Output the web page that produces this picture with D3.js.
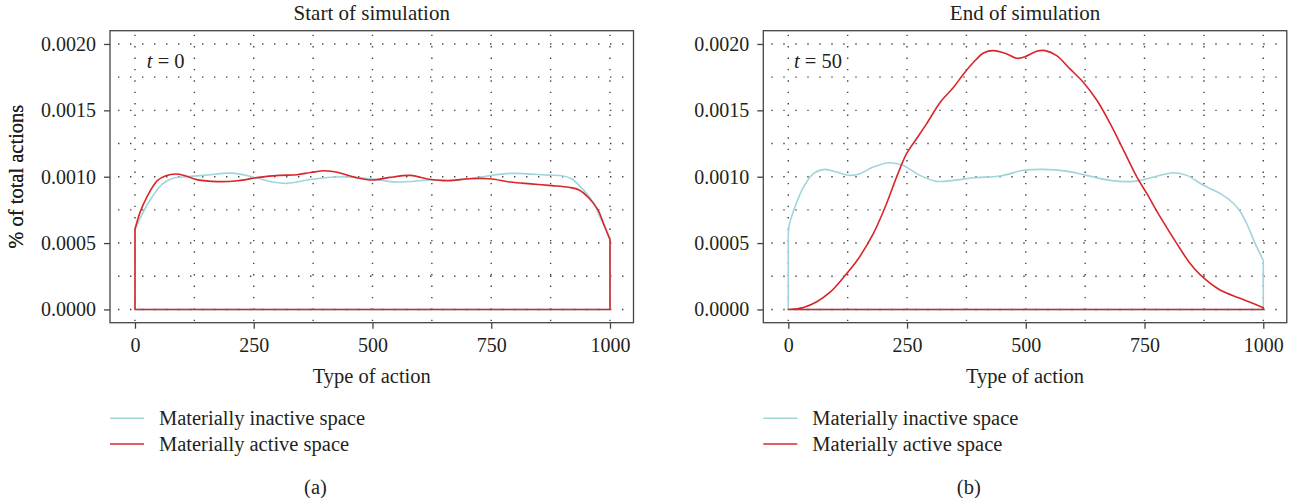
<!DOCTYPE html>
<html>
<head>
<meta charset="utf-8">
<script src="https://cdn.jsdelivr.net/npm/d3@7"></script>
<style>
  body { margin: 0; background: #fff; }
  svg text { font-family: "Liberation Serif", "DejaVu Serif", serif; fill: #231f20; }
</style>
</head>
<body>
<svg id="chart" width="1293" height="498"></svg>
<script>
// values: [type of action, % of total actions]
const startInactive = [[0,0.0006],[14,0.00071],[36,0.000847],[58,0.000946],[80,0.000988],[109,0.001],[145,0.00101],[203,0.001027],[246,0.001],[290,0.00096],[319,0.00095],[377,0.000983],[435,0.001],[500,0.000983],[551,0.00096],[623,0.000975],[681,0.000975],[732,0.001],[790,0.001025],[870,0.001012],[899,0.001007],[920,0.000983],[942,0.000908],[964,0.00081],[982,0.000673],[1000,0.00054]];
const startActive = [[0,0.000604],[11,0.000735],[25,0.000847],[47,0.00097],[65,0.001007],[87,0.00102],[105,0.001007],[130,0.000978],[174,0.000963],[217,0.00097],[261,0.000995],[304,0.00101],[341,0.001015],[370,0.001032],[399,0.001045],[428,0.001032],[464,0.000995],[500,0.000975],[536,0.000995],[580,0.00101],[616,0.000983],[659,0.00097],[703,0.000985],[746,0.000985],[790,0.00096],[833,0.000946],[877,0.000933],[913,0.00092],[935,0.0009],[957,0.000834],[975,0.000748],[986,0.00065],[1000,0.000525]];
const endInactive = [[0,0.00055],[2,0.000634],[14,0.000772],[32,0.000922],[53,0.001023],[77,0.001055],[102,0.001035],[130,0.00101],[151,0.001023],[179,0.001073],[214,0.001105],[242,0.001085],[277,0.00101],[312,0.000965],[348,0.000972],[390,0.000992],[446,0.001005],[495,0.001048],[537,0.001055],[586,0.001042],[628,0.00101],[678,0.000972],[727,0.000965],[769,0.000997],[811,0.00103],[839,0.00101],[874,0.000935],[909,0.000874],[937,0.0008],[951,0.00074],[966,0.00064],[980,0.00052],[993,0.00042],[1000,0.00037]];
const endActive = [[0,0],[32,0.000015],[60,0.000058],[88,0.00013],[116,0.00024],[147,0.00038],[179,0.000571],[204,0.000772],[228,0.000997],[249,0.001173],[270,0.001286],[291,0.001398],[320,0.001561],[348,0.001674],[369,0.001774],[390,0.001862],[411,0.001932],[432,0.00195],[460,0.001925],[481,0.001892],[499,0.001905],[523,0.001945],[541,0.00195],[565,0.001912],[593,0.001812],[621,0.001712],[650,0.001574],[678,0.001398],[706,0.001198],[734,0.000997],[755,0.000872],[783,0.000697],[818,0.000496],[846,0.000346],[867,0.000262],[909,0.000146],[951,0.000084],[975,0.00005],[1000,0.000013]];

const xTicks = [0, 250, 500, 750, 1000];
const yTicks = [0, 0.0005, 0.0010, 0.0015, 0.0020];
const xGrid = [0, 125, 250, 375, 500, 625, 750, 875, 1000];
const yGrid = [0, 0.00025, 0.0005, 0.00075, 0.001, 0.00125, 0.0015, 0.00175, 0.002];
const seriesNames = ['Materially inactive space', 'Materially active space'];
const seriesColors = ['#9fd5db', '#d8262b'];

const panels = [
  {title: 'Start of simulation', time: '0', tag: '(a)', left: 110, tPos: 25, data: [startInactive, startActive]},
  {title: 'End of simulation', time: '50', tag: '(b)', left: 763.3, tPos: 12, data: [endInactive, endActive]}
];

const svg = d3.select('#chart');
const plotTop = 30.7, width = 523.5, height = 292;

panels.forEach(p => {
  let g = svg.append('g').attr('transform', `translate(${p.left}, ${plotTop})`);

  let x = d3.scaleLinear().domain([-52.6, 1049.5]).range([0, width]);
  let y = d3.scaleLinear().domain([-0.0001, 0.0021]).range([height, 0]);

  // dotted grid
  g.selectAll('.hg').data(yGrid).enter().append('line')
    .attr('x1', 0).attr('x2', width)
    .attr('y1', d => y(d)).attr('y2', d => y(d))
    .attr('stroke', '#444').attr('stroke-width', 1.4)
    .attr('stroke-dasharray', '1.4 10.6').attr('stroke-dashoffset', -8);
  g.selectAll('.vg').data(xGrid).enter().append('line')
    .attr('y1', 0).attr('y2', height)
    .attr('x1', d => x(d)).attr('x2', d => x(d))
    .attr('stroke', '#444').attr('stroke-width', 1.4)
    .attr('stroke-dasharray', '1.4 10').attr('stroke-dashoffset', -4);

  // closed outline: curve on top, straight drop and baseline
  let outline = d3.area()
    .x(d => x(d[0]))
    .y0(y(0))
    .y1(d => y(d[1]))
    .curve(d3.curveCatmullRom.alpha(0.5));

  p.data.forEach((s, i) => {
    g.append('path')
      .datum(s)
      .attr('d', outline)
      .attr('fill', 'none')
      .attr('stroke', seriesColors[i])
      .attr('stroke-width', 1.6)
      .attr('stroke-linejoin', 'round');
  });

  g.append('rect')
    .attr('width', width).attr('height', height)
    .attr('fill', 'none').attr('stroke', '#444').attr('stroke-width', 1.3);

  let yAxis = d3.axisLeft(y).tickValues(yTicks).tickFormat(d3.format('.4f'))
    .tickSize(6).tickSizeOuter(0).tickPadding(8);
  let ya = g.append('g').call(yAxis);
  ya.select('.domain').remove();

  let xAxis = d3.axisBottom(x).tickValues(xTicks).tickFormat(d3.format('d'))
    .tickSize(6).tickSizeOuter(0).tickPadding(9);
  let xa = g.append('g').attr('transform', `translate(0, ${height})`).call(xAxis);
  xa.select('.domain').remove();

  [ya, xa].forEach(a => {
    a.selectAll('line').attr('stroke', '#444').attr('stroke-width', 1.3);
    a.selectAll('text').style('font-size', '20px').style('font-family', '"Liberation Serif", serif').attr('fill', '#231f20');
  });

  g.append('text')
    .attr('x', width / 2).attr('y', -11)
    .attr('text-anchor', 'middle')
    .style('font-size', '21px')
    .text(p.title);

  let tt = g.append('text')
    .attr('x', x(p.tPos)).attr('y', 37.5)
    .style('font-size', '20.5px');
  tt.append('tspan').style('font-style', 'italic').text('t');
  tt.append('tspan').text(' = ' + p.time);

  g.append('text')
    .attr('x', width / 2).attr('y', 352)
    .attr('text-anchor', 'middle')
    .style('font-size', '20.5px')
    .text('Type of action');

  g.append('text')
    .attr('transform', `translate(${-(p.left - 23)}, ${height / 2}) rotate(-90)`)
    .attr('text-anchor', 'middle')
    .style('font-size', '20.5px')
    .text('% of total actions');

  // legend
  let legend = g.append('g').attr('transform', `translate(0, ${418.3 - plotTop})`);
  let items = legend.selectAll('g').data(seriesNames).enter().append('g')
    .attr('transform', (d, i) => `translate(0, ${i * 25.7})`);
  items.append('line')
    .attr('x1', 0).attr('x2', 34).attr('y1', 0).attr('y2', 0)
    .attr('stroke', (d, i) => seriesColors[i]).attr('stroke-width', 1.6);
  items.append('text')
    .attr('x', 49).attr('y', 6.5)
    .style('font-size', '20.5px')
    .text(d => d);

  g.append('text')
    .attr('x', x(380)).attr('y', 494 - plotTop)
    .attr('text-anchor', 'middle')
    .style('font-size', '20.5px')
    .text(p.tag);
});
</script>
</body>
</html>
